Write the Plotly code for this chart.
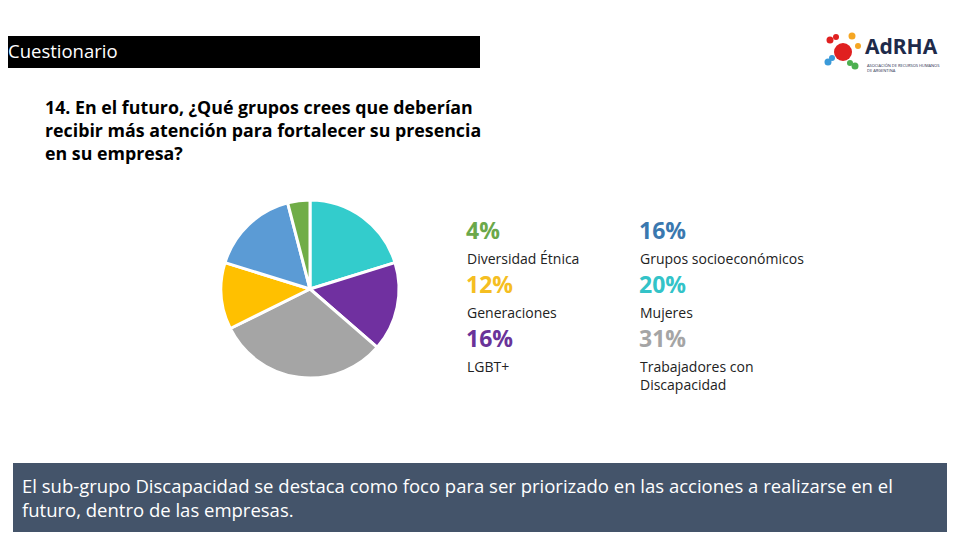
import plotly.graph_objects as go

# Pie data (clockwise from 12 o'clock, as in the slide)
labels = ["Mujeres", "LGBT+", "Trabajadores con Discapacidad", "Generaciones",
          "Grupos socioeconómicos", "Diversidad Étnica"]
values = [20, 16, 31, 12, 16, 4]
slice_colors = ["#33CCCC", "#7030A0", "#A5A5A5", "#FFC000", "#5B9BD5", "#70AD47"]
pct_colors = ["#33C3C8", "#6A3399", "#A5A5A5", "#F5BE22", "#3A78AF", "#6BA84A"]

# legend text blocks, in the order they appear (column 1 then column 2)
legend_order = ["Diversidad Étnica", "Generaciones", "LGBT+",
                "Grupos socioeconómicos", "Mujeres", "Trabajadores con Discapacidad"]
legend_text = {"Trabajadores con Discapacidad": "Trabajadores con<br>Discapacidad"}

title = "Cuestionario"
question = ("14. En el futuro, ¿Qué grupos crees que deberían<br>"
            "recibir más atención para fortalecer su presencia<br>en su empresa?")
note = ("El sub-grupo Discapacidad se destaca como foco para ser priorizado en las acciones a realizarse en el<br>"
        "futuro, dentro de las empresas.")

W, H = 960, 540
OFF = 8  # the page body adds an 8px margin, positions below are window pixels
FONT = "Open Sans"


def px(x):
    return (x - OFF) / W


def py(y):
    return 1 - (y - OFF) / H


fig = go.Figure()
fig.add_trace(go.Pie(
    labels=labels, values=values, sort=False, direction="clockwise", rotation=0,
    marker=dict(colors=slice_colors, line=dict(color="white", width=3)),
    textinfo="none", hoverinfo="label+percent", showlegend=False,
    domain=dict(x=[px(221), px(399)], y=[py(378), py(200)]),
))

shapes = [
    dict(type="rect", xref="paper", yref="paper", x0=px(0), x1=px(480), y0=py(68), y1=py(36),
         fillcolor="black", line_width=0, layer="below"),
    dict(type="rect", xref="paper", yref="paper", x0=px(13), x1=px(947), y0=py(532), y1=py(463),
         fillcolor="#44546A", line_width=0, layer="below"),
]

# rough version of the AdRHA logo
logo_dots = [(843, 52, 9, "#E02020"), (830, 40, 3.5, "#E02020"), (852, 36, 3.5, "#F5A623"),
             (828, 62, 3.5, "#3A9AD9"), (855, 66, 3.5, "#4CAF50"), (836, 37, 3, "#E02020"),
             (858, 46, 3, "#F5A623"), (832, 58, 3, "#3A9AD9"), (850, 63, 3, "#4CAF50")]
for cx, cy, r, c in logo_dots:
    shapes.append(dict(type="circle", xref="paper", yref="paper",
                       x0=px(cx - r), x1=px(cx + r), y0=py(cy + r), y1=py(cy - r),
                       fillcolor=c, line_width=0))

annotations = [
    dict(text=title, x=px(6), y=py(51), xanchor="left", yanchor="middle",
         font=dict(family=FONT, size=18.5, color="white")),
    dict(text="<b>" + question + "</b>", x=px(43), y=py(93), xanchor="left", yanchor="top",
         align="left", font=dict(family=FONT, size=17.8, color="black")),
    dict(text=note, x=px(20), y=py(497), xanchor="left", yanchor="middle", align="left",
         font=dict(family=FONT, size=18.5, color="white")),
    dict(text="<b>AdRHA</b>", x=px(863), y=py(46), xanchor="left", yanchor="middle",
         font=dict(family="Noto Sans", size=21, color="#1E2A4A")),
    dict(text="ASOCIACIÓN DE RECURSOS HUMANOS<br>DE ARGENTINA", x=px(865), y=py(61),
         xanchor="left", yanchor="top", align="left",
         font=dict(family=FONT, size=4, color="#1E2A4A")),
]

col_x = [466, 639]
row_y = [230, 284, 338]
for i, name in enumerate(legend_order):
    k = labels.index(name)
    x = col_x[i // 3]
    y = row_y[i % 3]
    annotations.append(dict(text="<b>%d%%</b>" % values[k], x=px(x - 2), y=py(y), xanchor="left",
                            yanchor="middle", font=dict(family=FONT, size=23, color=pct_colors[k])))
    annotations.append(dict(text=legend_text.get(name, name), x=px(x - 1), y=py(y + 16.5),
                            xanchor="left", yanchor="top", align="left",
                            font=dict(family=FONT, size=14, color="#222222")))

for a in annotations:
    a.update(xref="paper", yref="paper", showarrow=False)

fig.update_layout(
    width=W, height=H, margin=dict(l=0, r=0, t=0, b=0),
    paper_bgcolor="white", plot_bgcolor="white",
    shapes=shapes, annotations=annotations,
)

fig.write_html("out.html")
